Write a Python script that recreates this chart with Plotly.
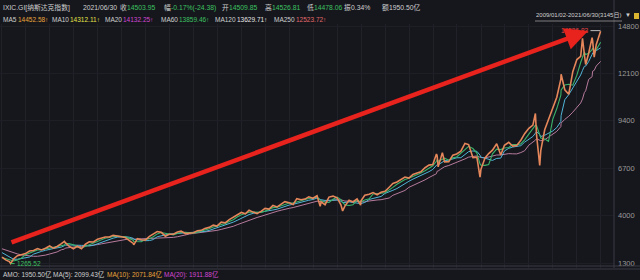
import plotly.graph_objects as go
import pandas as pd

# ---- data -------------------------------------------------------------
pre_dates = ["2008-01-31", "2008-02-29", "2008-03-31", "2008-04-30", "2008-05-30", "2008-06-30",
             "2008-07-31", "2008-08-29", "2008-09-30", "2008-10-31", "2008-11-28", "2008-12-31"]
pre_close = [2390, 2271, 2279, 2413, 2523, 2293, 2326, 2368, 2092, 1721, 1536, 1577]

dates = [
    "2009-01-02", "2009-01-30", "2009-02-27", "2009-03-09", "2009-03-31", "2009-04-30", "2009-05-29",
    "2009-06-30", "2009-07-31", "2009-08-31", "2009-09-30", "2009-10-30", "2009-11-30", "2009-12-31",
    "2010-01-29", "2010-02-26", "2010-03-31", "2010-04-23", "2010-04-30", "2010-05-28", "2010-06-30",
    "2010-07-30", "2010-08-31", "2010-09-30", "2010-10-29", "2010-11-30", "2010-12-31",
    "2011-01-31", "2011-02-28", "2011-03-31", "2011-04-29", "2011-05-31", "2011-06-30", "2011-07-29",
    "2011-08-31", "2011-09-30", "2011-10-03", "2011-10-31", "2011-11-30", "2011-12-30",
    "2012-01-31", "2012-02-29", "2012-03-30", "2012-04-30", "2012-05-31", "2012-06-29", "2012-07-31",
    "2012-08-31", "2012-09-28", "2012-10-31", "2012-11-30", "2012-12-31",
    "2013-01-31", "2013-02-28", "2013-03-28", "2013-04-30", "2013-05-31", "2013-06-28", "2013-07-31",
    "2013-08-30", "2013-09-30", "2013-10-31", "2013-11-29", "2013-12-31",
    "2014-01-31", "2014-02-28", "2014-03-31", "2014-04-30", "2014-05-30", "2014-06-30", "2014-07-31",
    "2014-08-29", "2014-09-30", "2014-10-31", "2014-11-28", "2014-12-31",
    "2015-01-30", "2015-02-27", "2015-03-31", "2015-04-30", "2015-05-29", "2015-06-30", "2015-07-31",
    "2015-08-24", "2015-08-31", "2015-09-30", "2015-10-30", "2015-11-30", "2015-12-31",
    "2016-01-29", "2016-02-11", "2016-02-29", "2016-03-31", "2016-04-29", "2016-05-31", "2016-06-27",
    "2016-06-30", "2016-07-29", "2016-08-31", "2016-09-30", "2016-10-31", "2016-11-30", "2016-12-30",
    "2017-01-31", "2017-02-28", "2017-03-31", "2017-04-28", "2017-05-31", "2017-06-30", "2017-07-31",
    "2017-08-31", "2017-09-29", "2017-10-31", "2017-11-30", "2017-12-29",
    "2018-01-26", "2018-01-31", "2018-02-08", "2018-02-28", "2018-03-12", "2018-03-29", "2018-04-30",
    "2018-05-31", "2018-06-29", "2018-07-31", "2018-08-31", "2018-09-28", "2018-10-31", "2018-11-30",
    "2018-12-24", "2018-12-31",
    "2019-01-31", "2019-02-28", "2019-03-29", "2019-04-30", "2019-05-31", "2019-06-28", "2019-07-31",
    "2019-08-30", "2019-09-30", "2019-10-31", "2019-11-29", "2019-12-31",
    "2020-01-31", "2020-02-19", "2020-02-28", "2020-03-23", "2020-03-31", "2020-04-30", "2020-05-29",
    "2020-06-30", "2020-07-31", "2020-08-31", "2020-09-02", "2020-09-30", "2020-10-30", "2020-11-30",
    "2020-12-31",
    "2021-01-29", "2021-02-12", "2021-02-26", "2021-03-08", "2021-03-31", "2021-04-26", "2021-04-30",
    "2021-05-12", "2021-05-28", "2021-06-30",
]
close = [
    1632, 1476, 1378, 1268, 1529, 1717, 1774,
    1835, 1979, 2009, 2122, 2045, 2145, 2269,
    2147, 2238, 2398, 2530, 2461, 2257, 2109,
    2255, 2114, 2369, 2507, 2498, 2653,
    2700, 2782, 2781, 2874, 2835, 2774, 2756,
    2579, 2415, 2335, 2684, 2620, 2605,
    2814, 2967, 3092, 3046, 2827, 2935, 2940,
    3067, 3116, 2977, 3010, 3020,
    3142, 3160, 3268, 3329, 3456, 3403, 3626,
    3590, 3771, 3920, 4060, 4177,
    4104, 4308, 4199, 4115, 4243, 4408, 4370,
    4580, 4493, 4631, 4792, 4736,
    4635, 4964, 4901, 4941, 5070, 4987, 5128,
    4526, 4777, 4620, 5054, 5109, 5007,
    4614, 4267, 4558, 4870, 4775, 4948, 4594,
    4843, 5162, 5213, 5312, 5189, 5324, 5383,
    5615, 5825, 5912, 6048, 6199, 6140, 6348,
    6429, 6496, 6728, 6874, 6903,
    7506, 7411, 6777, 7273, 7588, 7063, 7066,
    7442, 7510, 7672, 8110, 8046, 7306, 7331,
    6193, 6635,
    7282, 7533, 7729, 8095, 7453, 8006, 8175,
    7963, 7999, 8292, 8665, 8973,
    9151, 9817, 8567, 6861, 7700, 8890, 9490,
    10059, 10745, 11775, 12056, 11168, 10912, 12199,
    12888,
    13071, 14095, 13192, 12609, 13247, 14138, 13962,
    13031, 13749, 14504,
]

low_date, low_value = "2009-03-09", 1265.52
high_date, high_value = "2021-06-29", 14536.83

y_ticks = [1300, 4000, 6700, 9400, 12100, 14800]

# moving averages (trading-day windows approximated by calendar windows)
s = pd.Series(pre_close + close, index=pd.to_datetime(pre_dates + dates), dtype=float)
ma60 = s.rolling("87D").mean()
ma120 = s.rolling("174D").mean()
ma250 = s.rolling("363D").mean()
mask = s.index >= pd.Timestamp("2009-01-02")

BG = "#16171d"
GREEN = "#3cc060"
GREY = "#cfcfcf"
FONT = "Liberation Sans, Noto Sans CJK SC, sans-serif"

fig = go.Figure()
fig.add_trace(go.Scatter(x=s.index[mask], y=ma250[mask], mode="lines",
                         line=dict(color="#b67a9c", width=1), hoverinfo="skip"))
fig.add_trace(go.Scatter(x=s.index[mask], y=ma120[mask], mode="lines",
                         line=dict(color="#4fb6d8", width=1), hoverinfo="skip"))
fig.add_trace(go.Scatter(x=s.index[mask], y=ma60[mask], mode="lines",
                         line=dict(color="#39b36a", width=1.1), hoverinfo="skip"))
fig.add_trace(go.Scatter(x=s.index[mask], y=s[mask], mode="lines",
                         line=dict(color="#e5875a", width=1.6), hoverinfo="skip"))

W_PLOT = 614.0
TOP, BOT = 24.0, 268.0


def px(x):
    return x / W_PLOT


def py(y):
    return (BOT - y) / (BOT - TOP)


anns = []


def txt(x, y, t, color, size=6.5):
    anns.append(dict(x=px(x), y=py(y), xref="paper", yref="paper", text=t, showarrow=False,
                     xanchor="left", yanchor="middle", font=dict(family=FONT, size=size, color=color),
                     borderpad=0))


# header row 1
row1 = [(2, "IXIC.GI[纳斯达克指数]", GREY), (82, "2021/06/30", GREY),
        (119, "收", GREY), (126, "14503.95", GREEN),
        (163, "幅", GREY), (170, "-0.17%(-24.38)", GREEN),
        (221, "开", GREY), (228, "14509.85", GREEN),
        (264, "高", GREY), (271, "14526.81", GREEN),
        (306, "低", GREY), (313, "14478.06", GREEN),
        (343, "振", GREY), (350, "0.34%", GREY),
        (381, "额", GREY), (388, "1950.50亿", GREY)]
for x, t, c in row1:
    txt(x, 8, t, c, 6.8)

# header row 2
row2 = [(2, "MA5", GREY), (17, "14452.58↑", "#e8a43a"),
        (51, "MA10", GREY), (69, "14312.11↑", "#e4e448"),
        (104, "MA20", GREY), (122, "14132.25↑", "#d246d2"),
        (160, "MA60", GREY), (178, "13859.46↑", GREEN),
        (214, "MA120", GREY), (236, "13629.71↑", "#e6e6e6"),
        (273, "MA250", GREY), (295, "12523.72↑", "#e06a6a")]
for x, t, c in row2:
    txt(x, 20, t, c, 6.5)

# bottom row
row3 = [(2, "AMO: 1950.50亿", GREY), (52, "MA(5): 2099.43亿", GREY),
        (106, "MA(10): 2071.84亿", "#e8a43a"), (163, "MA(20): 1911.88亿", "#d246d2")]
for x, t, c in row3:
    txt(x, 274, t, c, 6.5)

# date range top right
txt(535, 15, "2009/01/02-2021/06/30(3145日)", GREY, 6)
txt(624, 15, "▼", GREY, 6)

# high / low labels
anns.append(dict(x=high_date, y=high_value, xref="x", yref="y", text=f"{high_value:.2f}",
                 showarrow=True, arrowhead=0, arrowwidth=1, arrowcolor="#bbbbbb", ax=-10, ay=0,
                 xanchor="right", font=dict(family=FONT, size=6.5, color="#e84848")))
anns.append(dict(x=low_date, y=low_value, xref="x", yref="y", text=f"{low_value:.2f}",
                 showarrow=True, arrowhead=0, arrowwidth=1, arrowcolor=GREEN, ax=4, ay=0,
                 xanchor="left", font=dict(family=FONT, size=6.5, color=GREEN)))

# big red arrow
anns.append(dict(x=px(588), y=py(31), xref="paper", yref="paper", text="", showarrow=True,
                 arrowhead=2, arrowsize=1.0, arrowwidth=4.5, arrowcolor="#e8221c",
                 ax=-578, ay=212, standoff=0))

shapes = [
    dict(type="line", xref="paper", yref="paper", x0=1, x1=1, y0=0, y1=py(0), line=dict(color="#3a3b44", width=1)),
    dict(type="line", xref="paper", yref="paper", x0=0, x1=640 / W_PLOT, y0=py(266), y1=py(266),
         line=dict(color="#3a3b44", width=1)),
    dict(type="line", xref="paper", yref="paper", x0=0, x1=640 / W_PLOT, y0=py(269), y1=py(269),
         line=dict(color="#3a3b44", width=1)),
    dict(type="line", xref="paper", yref="paper", x0=px(535), x1=px(622), y0=py(21), y1=py(21),
         line=dict(color="#9a9a9a", width=0.8)),
    dict(type="rect", xref="paper", yref="paper", x0=px(634), x1=px(639), y0=py(19), y1=py(13),
         fillcolor="#d8b430", line=dict(width=0)),
]

fig.update_layout(
    width=640, height=280,
    margin=dict(l=0, r=26, t=24, b=12),
    paper_bgcolor=BG, plot_bgcolor=BG,
    showlegend=False,
    annotations=anns, shapes=shapes,
    xaxis=dict(type="date", range=["2008-12-18", "2021-10-10"], showticklabels=False,
               showgrid=True, gridcolor="#202129", gridwidth=1, dtick="M6", tick0="2009-01-01",
               zeroline=False, showline=False, ticks=""),
    yaxis=dict(range=[1015, 14914], side="right", tickvals=y_ticks,
               ticktext=[str(v) for v in y_ticks], showgrid=True, gridcolor="#1e1f26",
               zeroline=False, showline=False, ticks="", ticklabelstandoff=3,
               tickfont=dict(family=FONT, size=7.5, color="#9a9a9a")),
)

fig.write_html("out.html")
